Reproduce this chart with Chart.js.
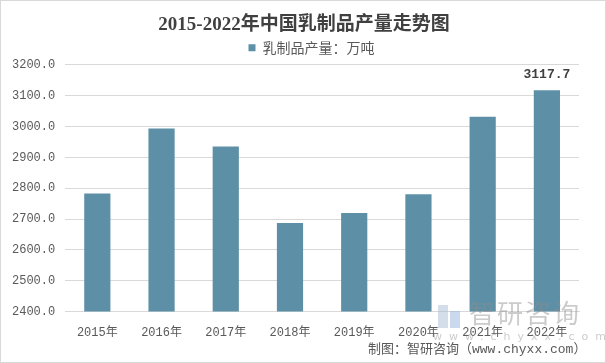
<!DOCTYPE html>
<html><head><meta charset="utf-8">
<script src="https://cdn.jsdelivr.net/npm/chart.js@4/dist/chart.umd.min.js"></script>
<style>
html,body{margin:0;padding:0;background:#fff;}
#wrap{position:relative;width:606px;height:363px;box-sizing:border-box;border:1px solid #d9d9d9;overflow:hidden;}
canvas{position:absolute;left:0;top:0;}
.wm{position:absolute;color:rgba(140,140,140,0.45);font-family:"Noto Sans CJK SC",sans-serif;}
#src{position:absolute;left:367px;top:337px;font-family:"Liberation Mono","Noto Sans CJK SC",monospace;font-size:13px;color:#595959;white-space:nowrap;}
</style></head>
<body>
<div id="wrap">
<canvas id="c" width="606" height="363"></canvas>
<div class="wm" style="left:437px;top:304px;width:22px;height:23px;">
  <div style="position:absolute;left:0;top:0;width:10px;height:23px;background:rgba(170,190,215,0.5);"></div>
  <div style="position:absolute;left:12px;top:6px;width:10px;height:17px;background:rgba(150,180,220,0.5);"></div>
</div>
<div class="wm" style="left:468px;top:292px;font-size:26px;letter-spacing:2px;">智研咨询</div>
<div class="wm" style="left:432px;top:329px;font-size:11px;letter-spacing:7px;font-family:'DejaVu Sans',sans-serif;">www.chyxx.com</div>
<div id="src">制图：智研咨询（www.chyxx.com）</div>
</div>
<script>
const categories = ["2015年","2016年","2017年","2018年","2019年","2020年","2021年","2022年"];
const production = [2782.5, 2993.2, 2935.0, 2687.1, 2719.4, 2780.4, 3031.7, 3117.7];
const seriesName = "乳制品产量：万吨";
const titleText = "2015-2022年中国乳制品产量走势图";
const labeledIndex = 7;

const labelPlugin = {
  id: 'lastLabel',
  afterLayout(chart) {
    const t = chart.titleBlock;
    if (t) { t.left += 13.5; t.right += 13.5; }
    const l = chart.legend;
    if (l) { l.left += 21; l.right += 21; }
  },
  afterDatasetsDraw(chart) {
    const meta = chart.getDatasetMeta(0);
    const el = meta.data[labeledIndex];
    const ctx = chart.ctx;
    ctx.save();
    ctx.font = 'bold 13px "Liberation Mono", monospace';
    ctx.fillStyle = '#404040';
    ctx.textAlign = 'center';
    ctx.textBaseline = 'bottom';
    ctx.fillText(production[labeledIndex].toFixed(1), el.x, el.y - 9);
    ctx.restore();
  }
};

new Chart(document.getElementById('c'), {
  type: 'bar',
  data: {
    labels: categories,
    datasets: [{
      label: seriesName,
      data: production,
      backgroundColor: '#5D90A7',
      barPercentage: 0.8,
      categoryPercentage: 0.51
    }]
  },
  options: {
    responsive: false,
    animation: false,
    layout: { padding: { left: 1, right: 28, top: 9, bottom: 18 } },
    plugins: {
      title: {
        display: true, text: titleText, color: '#404040',
        font: { family: '"Liberation Serif","Noto Sans CJK SC",serif', size: 19, weight: 'bold' },
        padding: { top: 4, bottom: 3 }
      },
      legend: {
        display: true,
        labels: {
          boxWidth: 7, boxHeight: 7, padding: 1, color: '#595959',
          font: { family: '"Noto Sans CJK SC",sans-serif', size: 14 }
        }
      },
      tooltip: { enabled: false }
    },
    scales: {
      x: {
        grid: { display: false },
        border: { display: true, color: '#d9d9d9' },
        ticks: { color: '#595959', padding: 6, font: { family: '"Liberation Mono","Noto Sans CJK SC",monospace', size: 12 } }
      },
      y: {
        min: 2400, max: 3200,
        grid: { color: '#d9d9d9', drawTicks: false },
        border: { display: false },
        ticks: {
          stepSize: 100, padding: 10, color: '#595959',
          font: { family: '"Liberation Mono",monospace', size: 12 },
          callback: v => Number(v).toFixed(1)
        }
      }
    }
  },
  plugins: [labelPlugin]
});
</script>
</body></html>
